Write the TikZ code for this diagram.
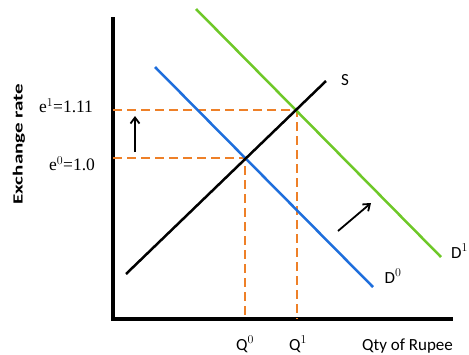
\documentclass[tikz,border=0pt]{standalone}
\usepackage{fontspec}
\setmainfont{Carlito}
\newfontfamily\serifl{Liberation Serif}
\usetikzlibrary{arrows.meta}
\definecolor{dgreen}{RGB}{110,200,40}
\definecolor{dblue}{RGB}{30,110,220}
\definecolor{dorange}{RGB}{238,128,40}
\tikzset{
  axis/.style={line width=3.6pt},
  curveS/.style={line width=2.5pt,black},
  curveD/.style={line width=2.5pt,dblue},
  curveDD/.style={line width=2.5pt,dgreen},
  guide/.style={line width=2.8pt,dorange,dash pattern=on 9pt off 5pt},
  shiftarrow/.style={line width=1.8pt,-{Straight Barb[length=6pt,width=9pt]}},
  lbl/.style={font=\fontsize{17}{19}\selectfont,inner sep=0pt},
  elbl/.style={font=\serifl\fontsize{17.5}{19}\selectfont,inner sep=0pt}
}
\begin{document}
\begin{tikzpicture}[x=1pt,y=-1pt]
\useasboundingbox (0,0) rectangle (469,354);
% axes
\coordinate (O) at (113,319);
\coordinate (Ytop) at (113,17);
\coordinate (Xend) at (453,319);
\draw[axis] (Ytop) -- (O) -- (Xend);
% curve end points
\coordinate (S1) at (126,274);
\coordinate (S2) at (326,81);
\coordinate (A1) at (155,67);
\coordinate (A2) at (373,287);
\coordinate (B1) at (196,9);
\coordinate (B2) at (441,257);
\coordinate (E0) at (245,158);
\coordinate (E1) at (297,110);
\coordinate (Q0) at (245,319);
\coordinate (Q1) at (297,319);
\coordinate (Y0) at (113,158);
\coordinate (Y1) at (113,110);
% guides
\draw[guide] (Y1) -- (E1) -- (Q1);
\draw[guide] (Y0) -- (E0) -- (Q0);
% curves
\draw[curveDD] (B1) -- (B2);
\draw[curveD] (A1) -- (A2);
\draw[curveS] (S1) -- (S2);
% shift arrows
\coordinate (U1) at (135,152);
\coordinate (U2) at (135,116);
\draw[shiftarrow] (U1) -- (U2);
\coordinate (R1) at (338,231);
\coordinate (R2) at (371,203);
\draw[shiftarrow] (R1) -- (R2);
% labels
\node[lbl] (lS) at (345,80) {S};
\node[lbl,anchor=west] (lD1) at (451,251) {D$^{\scriptstyle 1}$};
\node[lbl] (lD0) at (393,276) {D$^{\scriptstyle 0}$};
\node[lbl,anchor=base] (lQ0) at (245,350) {Q$^{\scriptstyle 0}$};
\node[lbl,anchor=base] (lQ1) at (298,350) {Q$^{\scriptstyle 1}$};
\node[lbl,anchor=base west] (lQty) at (362,350) {Qty of Rupee};
\node[lbl,font=\bfseries\fontsize{14}{16}\selectfont,rotate=90] (lEx) at (19,144) {\scalebox{1.5}[1]{Exchange rate}};
\node[elbl] (le1) at (66,106) {e$^{\scriptstyle 1}$=1.11};
\node[elbl] (le0) at (72,164) {e$^{\scriptstyle 0}$=1.0};
\end{tikzpicture}
\end{document}
